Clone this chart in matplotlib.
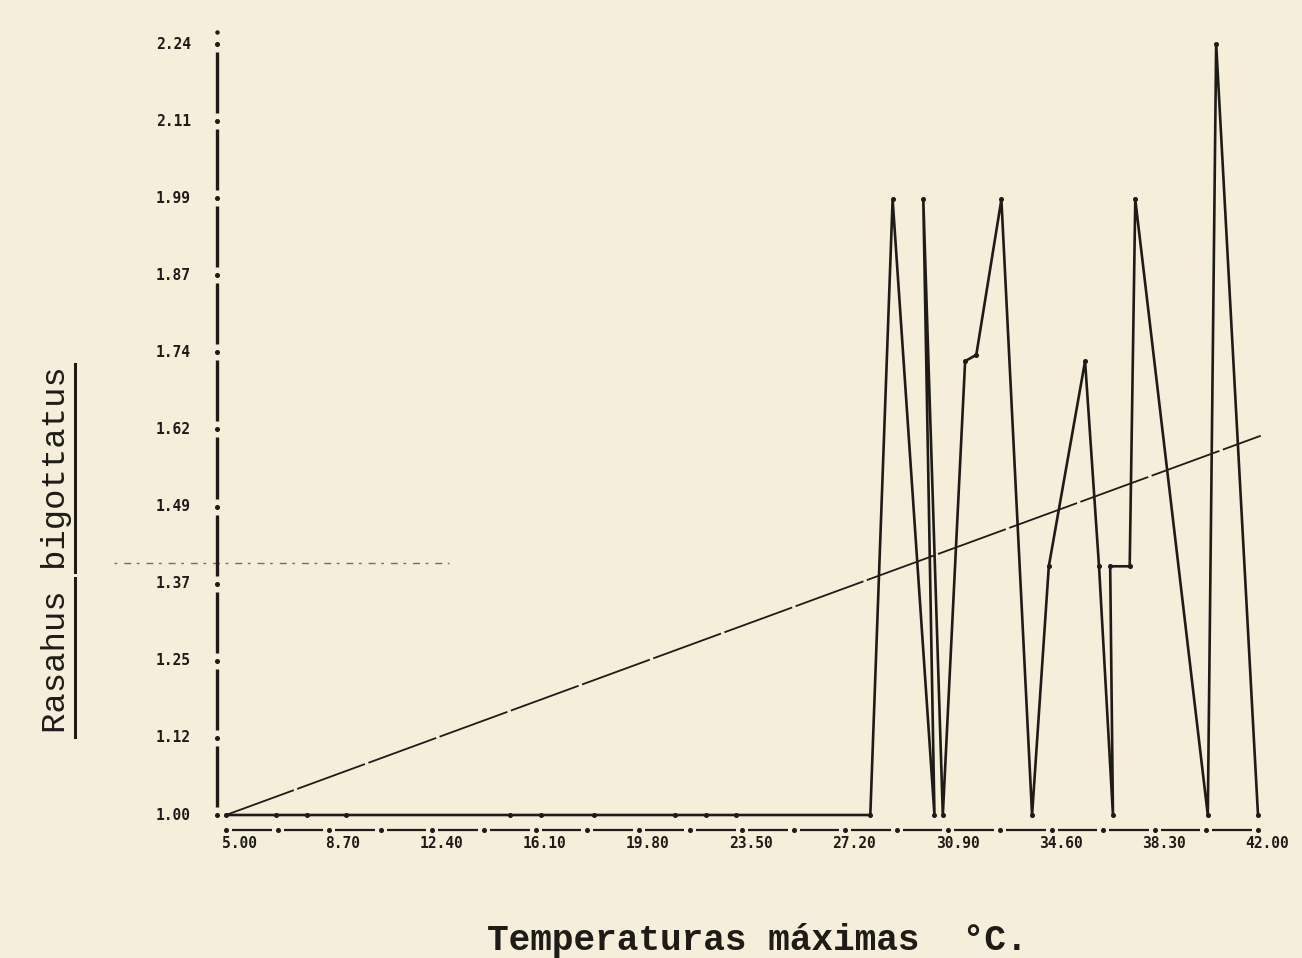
import numpy as np
import matplotlib
matplotlib.use("Agg")
import matplotlib.pyplot as plt

# data
temp = [5.0, 6.8, 7.9, 9.3, 15.2, 16.3, 18.2, 21.1, 22.2, 23.3, 28.1,
        28.9, 30.4, 30.0, 30.7, 31.5, 31.9, 32.8, 33.9, 34.5, 35.8,
        36.3, 36.8, 36.7, 37.4, 37.6, 40.2, 40.5, 42.0]
valor = [1.00, 1.00, 1.00, 1.00, 1.00, 1.00, 1.00, 1.00, 1.00, 1.00, 1.00,
         1.99, 1.00, 1.99, 1.00, 1.73, 1.74, 1.99, 1.00, 1.40, 1.73,
         1.40, 1.00, 1.40, 1.40, 1.99, 1.00, 2.24, 1.00]

# fitted line and mean line
reg_x = [5.0, 42.1]
reg_y = [1.00, 1.61]
media_x = [1.0, 13.0]
media_y = [1.405, 1.405]

ytick_labels = ["1.00", "1.12", "1.25", "1.37", "1.49", "1.62",
                "1.74", "1.87", "1.99", "2.11", "2.24"]
xtick_labels = ["5.00", "8.70", "12.40", "16.10", "19.80", "23.50",
                "27.20", "30.90", "34.60", "38.30", "42.00"]

paper = "#f4eedb"
ink = "#1f1b17"

W, H = 1302, 958
fig = plt.figure(figsize=(W / 100, H / 100), dpi=100, facecolor=paper)
ax = fig.add_axes([226 / W, (H - 815) / H, 1032 / W, 771 / H])
ax.set_xlim(5, 42)
ax.set_ylim(1.0, 2.24)
ax.axis("off")

dx = 37 / 1032      # data units per pixel
dy = 1.24 / 771

# y axis: bars between tick dots
yt = np.linspace(1.0, 2.24, 11)
xa = 5 - 9 * dx
for i in range(len(yt) - 1):
    ax.plot([xa, xa], [yt[i] + 8 * dy, yt[i + 1] - 8 * dy], color=ink, lw=2.4,
            solid_capstyle="butt", clip_on=False)
ax.plot([xa] * len(yt), yt, "o", color=ink, ms=2.6, clip_on=False)
ax.plot([xa], [2.24 + 12 * dy], "o", color=ink, ms=2.2, clip_on=False)
for v, lab in zip(yt, ytick_labels):
    ax.text(5 - 35 * dx, v, lab, ha="right", va="center", fontsize=10.5,
            family="DejaVu Sans Mono", weight="bold", color=ink, clip_on=False)

# x axis: dash-dot baseline
xt = np.linspace(5, 42, 21)
yb = 1.0 - 15 * dy
for i in range(len(xt) - 1):
    ax.plot([xt[i] + 6 * dx, xt[i + 1] - 6 * dx], [yb, yb], color=ink, lw=1.6,
            solid_capstyle="butt", clip_on=False)
ax.plot(xt, [yb] * len(xt), "o", color=ink, ms=2.6, clip_on=False)
for v, lab in zip(xt[::2], xtick_labels):
    ax.text(v + 31 * dx, 1.0 - 28 * dy, lab, ha="right", va="center",
            fontsize=10.5, family="DejaVu Sans Mono", weight="bold", color=ink,
            clip_on=False)

# series
ax.plot(temp, valor, color=ink, lw=1.9, clip_on=False, zorder=3)
ax.plot(temp, valor, "o", color=ink, ms=2.6, clip_on=False, zorder=4)
ax.plot(reg_x, reg_y, color=ink, lw=1.3, dashes=(40, 2), clip_on=False)
ax.plot(media_x, media_y, color=ink, lw=1.0, dashes=(2, 5, 5, 4), alpha=0.6,
        clip_on=False)

# axis titles
fig.text(757 / W, 1 - 940 / H, "Temperaturas máximas  °C.", ha="center",
         va="center", fontsize=26, family="Liberation Mono", weight="bold",
         color=ink)
fig.text(57 / W, 1 - 550 / H, "Rasahus bigottatus", ha="center", va="center",
         rotation=90, fontsize=24.5, family="Liberation Mono", color=ink)
fig.add_artist(plt.Line2D([75 / W, 75 / W], [1 - 737 / H, 1 - 578 / H],
                          color=ink, lw=2.2))
fig.add_artist(plt.Line2D([75 / W, 75 / W], [1 - 572 / H, 1 - 364 / H],
                          color=ink, lw=2.2))

fig.savefig("out.png", dpi=100, facecolor=paper)
